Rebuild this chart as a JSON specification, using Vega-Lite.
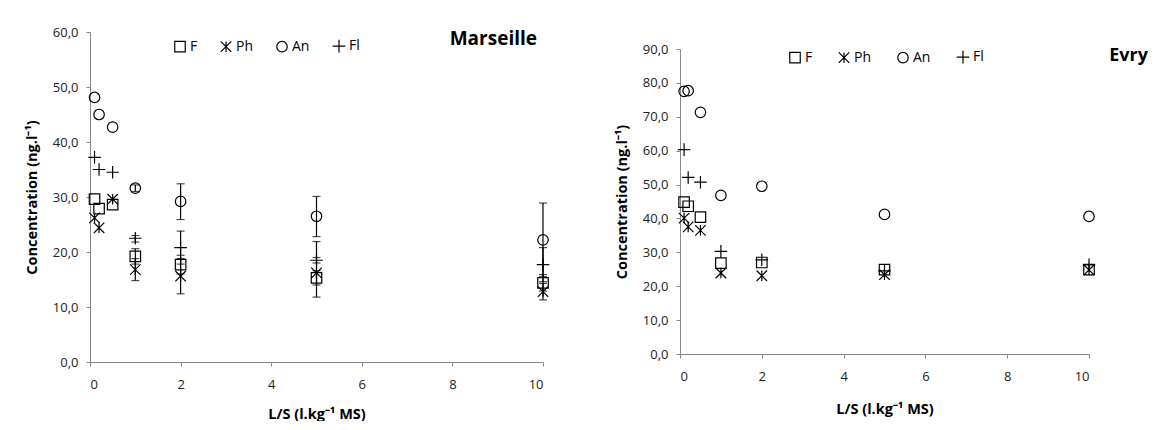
{
  "$schema": "https://vega.github.io/schema/vega-lite/v6.json",
  "background": "white",
  "padding": {"left": 24, "top": 26, "right": 0, "bottom": 0},
  "autosize": {"type": "pad"},
  "bounds": "flush",
  "spacing": 137,
  "config": {
    "view": {"stroke": null},
    "font": "Open Sans",
    "axis": {
      "domainColor": "#888888",
      "tickColor": "#888888",
      "tickSize": 4,
      "grid": false,
      "labelFont": "Open Sans",
      "labelFontSize": 13,
      "labelColor": "#222222",
      "titleFont": "Open Sans",
      "titleFontSize": 14.5,
      "titleFontWeight": "bold",
      "titleColor": "#000000"
    },
    "legend": {
      "labelFont": "Open Sans",
      "labelFontSize": 14,
      "labelColor": "#000000",
      "padding": 0,
      "columnPadding": 20,
      "labelOffset": 3,
      "symbolStrokeWidth": 1.2,
      "symbolSize": 110
    }
  },
  "resolve": {
    "scale": {"shape": "independent", "x": "independent", "y": "independent"},
    "legend": {"shape": "independent"}
  },
  "datasets": {
    "marseille": [
      {"ls": 0.1, "conc": 29.6, "sp": "F"}, {"ls": 0.2, "conc": 27.9, "sp": "F"}, {"ls": 0.5, "conc": 28.6, "sp": "F"}, {"ls": 1, "conc": 19.2, "sp": "F"}, {"ls": 2, "conc": 17.7, "sp": "F"}, {"ls": 5, "conc": 15.3, "sp": "F"}, {"ls": 10, "conc": 14.4, "sp": "F"},
      {"ls": 0.1, "conc": 26.2, "sp": "Ph"}, {"ls": 0.2, "conc": 24.4, "sp": "Ph"}, {"ls": 0.5, "conc": 29.6, "sp": "Ph"}, {"ls": 1, "conc": 16.8, "sp": "Ph"}, {"ls": 2, "conc": 15.6, "sp": "Ph"}, {"ls": 5, "conc": 16.2, "sp": "Ph"}, {"ls": 10, "conc": 12.8, "sp": "Ph"},
      {"ls": 0.1, "conc": 48.1, "sp": "An"}, {"ls": 0.2, "conc": 45.0, "sp": "An"}, {"ls": 0.5, "conc": 42.7, "sp": "An"}, {"ls": 1, "conc": 31.6, "sp": "An"}, {"ls": 2, "conc": 29.2, "sp": "An"}, {"ls": 5, "conc": 26.5, "sp": "An"}, {"ls": 10, "conc": 22.2, "sp": "An"},
      {"ls": 0.1, "conc": 37.2, "sp": "Fl"}, {"ls": 0.2, "conc": 35.0, "sp": "Fl"}, {"ls": 0.5, "conc": 34.5, "sp": "Fl"}, {"ls": 1, "conc": 22.5, "sp": "Fl"}, {"ls": 2, "conc": 20.8, "sp": "Fl"}, {"ls": 5, "conc": 18.5, "sp": "Fl"}, {"ls": 10, "conc": 17.7, "sp": "Fl"}
    ],
    "marseilleErr": [
      {"ls": 1, "sp": "An", "lo": 31.0, "hi": 32.2}, {"ls": 2, "sp": "An", "lo": 25.9, "hi": 32.4}, {"ls": 5, "sp": "An", "lo": 22.8, "hi": 30.1}, {"ls": 10, "sp": "An", "lo": 15.5, "hi": 28.9},
      {"ls": 1, "sp": "Fl", "lo": 21.8, "hi": 23.0}, {"ls": 2, "sp": "Fl", "lo": 17.8, "hi": 23.8}, {"ls": 5, "sp": "Fl", "lo": 18.0, "hi": 19.0}, {"ls": 10, "sp": "Fl", "lo": 14.6, "hi": 20.8},
      {"ls": 1, "sp": "F", "lo": 17.8, "hi": 20.6}, {"ls": 2, "sp": "F", "lo": 16.0, "hi": 19.4}, {"ls": 5, "sp": "F", "lo": 14.0, "hi": 16.6}, {"ls": 10, "sp": "F", "lo": 12.9, "hi": 15.9},
      {"ls": 1, "sp": "Ph", "lo": 14.8, "hi": 18.8}, {"ls": 2, "sp": "Ph", "lo": 12.4, "hi": 18.8}, {"ls": 5, "sp": "Ph", "lo": 11.8, "hi": 21.9}, {"ls": 10, "sp": "Ph", "lo": 11.3, "hi": 14.3}
    ],
    "evry": [
      {"ls": 0.1, "conc": 44.8, "sp": "F"}, {"ls": 0.2, "conc": 43.6, "sp": "F"}, {"ls": 0.5, "conc": 40.4, "sp": "F"}, {"ls": 1, "conc": 26.8, "sp": "F"}, {"ls": 2, "conc": 27.0, "sp": "F"}, {"ls": 5, "conc": 24.9, "sp": "F"}, {"ls": 10, "conc": 24.9, "sp": "F"},
      {"ls": 0.1, "conc": 40.1, "sp": "Ph"}, {"ls": 0.2, "conc": 37.5, "sp": "Ph"}, {"ls": 0.5, "conc": 36.5, "sp": "Ph"}, {"ls": 1, "conc": 23.9, "sp": "Ph"}, {"ls": 2, "conc": 23.1, "sp": "Ph"}, {"ls": 5, "conc": 23.4, "sp": "Ph"}, {"ls": 10, "conc": 24.8, "sp": "Ph"},
      {"ls": 0.1, "conc": 77.5, "sp": "An"}, {"ls": 0.2, "conc": 77.7, "sp": "An"}, {"ls": 0.5, "conc": 71.3, "sp": "An"}, {"ls": 1, "conc": 46.8, "sp": "An"}, {"ls": 2, "conc": 49.5, "sp": "An"}, {"ls": 5, "conc": 41.2, "sp": "An"}, {"ls": 10, "conc": 40.6, "sp": "An"},
      {"ls": 0.1, "conc": 60.3, "sp": "Fl"}, {"ls": 0.2, "conc": 52.1, "sp": "Fl"}, {"ls": 0.5, "conc": 50.7, "sp": "Fl"}, {"ls": 1, "conc": 30.3, "sp": "Fl"}, {"ls": 2, "conc": 27.8, "sp": "Fl"}, {"ls": 5, "conc": 24.5, "sp": "Fl"}, {"ls": 10, "conc": 26.3, "sp": "Fl"}
    ]
  },
  "hconcat": [
    {
      "width": 453,
      "height": 330,
      "title": {"text": "Marseille", "anchor": "end", "frame": "group", "offset": -23, "dx": -6, "fontSize": 19, "fontWeight": "bold", "font": "Open Sans", "color": "#000000"},
      "layer": [
        {
          "data": {"name": "marseilleErr"},
          "mark": {"type": "rule", "color": "#000000", "strokeWidth": 1.2},
          "encoding": {
            "x": {"field": "ls", "type": "quantitative", "scale": {"domain": [0, 10], "nice": false}},
            "y": {"field": "lo", "type": "quantitative", "scale": {"domain": [0, 60], "nice": false}},
            "y2": {"field": "hi"}
          }
        },
        {
          "data": {"name": "marseilleErr"},
          "mark": {"type": "tick", "orient": "horizontal", "color": "#000000", "size": 8, "thickness": 1.2},
          "encoding": {
            "x": {"field": "ls", "type": "quantitative"},
            "y": {"field": "lo", "type": "quantitative"}
          }
        },
        {
          "data": {"name": "marseilleErr"},
          "mark": {"type": "tick", "orient": "horizontal", "color": "#000000", "size": 8, "thickness": 1.2},
          "encoding": {
            "x": {"field": "ls", "type": "quantitative"},
            "y": {"field": "hi", "type": "quantitative"}
          }
        },
        {
          "data": {"name": "marseille"},
          "mark": {"type": "point", "filled": false, "stroke": "#000000", "strokeWidth": 1.2, "size": 110, "opacity": 1},
          "encoding": {
            "x": {"field": "ls", "type": "quantitative", "scale": {"domain": [0, 10], "nice": false},
                  "axis": {"values": [0, 2, 4, 6, 8, 10], "format": "d", "labelPadding": 12, "titlePadding": 16, "title": "L/S (l.kg⁻¹ MS)"}},
            "y": {"field": "conc", "type": "quantitative", "scale": {"domain": [0, 60], "nice": false},
                  "axis": {"values": [0, 10, 20, 30, 40, 50, 60], "labelExpr": "replace(format(datum.value, '.1f'), '.', ',')", "labelPadding": 8, "titlePadding": 13, "title": "Concentration (ng.l⁻¹)"}},
            "shape": {"field": "sp", "type": "nominal",
                      "scale": {"domain": ["F", "Ph", "An", "Fl"], "range": ["square", "M-1,-1L1,1M-1,1L1,-1M0,-1L0,1", "circle", "M-1.2,0L1.2,0M0,-1.2L0,1.2"]},
                      "legend": {"title": null, "orient": "none", "direction": "horizontal", "legendX": 83, "legendY": 7}}
          }
        }
      ]
    },
    {
      "width": 409,
      "height": 322,
      "title": {"text": "Evry", "anchor": "end", "frame": "group", "offset": -33, "dx": 59, "fontSize": 18, "fontWeight": "bold", "font": "Open Sans", "color": "#000000"},
      "data": {"name": "evry"},
      "mark": {"type": "point", "filled": false, "stroke": "#000000", "strokeWidth": 1.2, "size": 110, "opacity": 1},
      "encoding": {
        "x": {"field": "ls", "type": "quantitative", "scale": {"domain": [0, 10], "nice": false},
              "axis": {"values": [0, 2, 4, 6, 8, 10], "format": "d", "labelPadding": 12, "titlePadding": 19, "title": "L/S (l.kg⁻¹ MS)"}},
        "y": {"field": "conc", "type": "quantitative", "scale": {"domain": [0, 90], "nice": false, "range": [322, 17]},
              "axis": {"values": [0, 10, 20, 30, 40, 50, 60, 70, 80, 90], "labelExpr": "replace(format(datum.value, '.1f'), '.', ',')", "labelPadding": 8, "titlePadding": 13, "title": "Concentration (ng.l⁻¹)"}},
        "shape": {"field": "sp", "type": "nominal",
                  "scale": {"domain": ["F", "Ph", "An", "Fl"], "range": ["square", "M-1,-1L1,1M-1,1L1,-1M0,-1L0,1", "circle", "M-1.2,0L1.2,0M0,-1.2L0,1.2"]},
                  "legend": {"title": null, "orient": "none", "direction": "horizontal", "legendX": 108, "legendY": 18, "columnPadding": 23}}
      }
    }
  ]
}
